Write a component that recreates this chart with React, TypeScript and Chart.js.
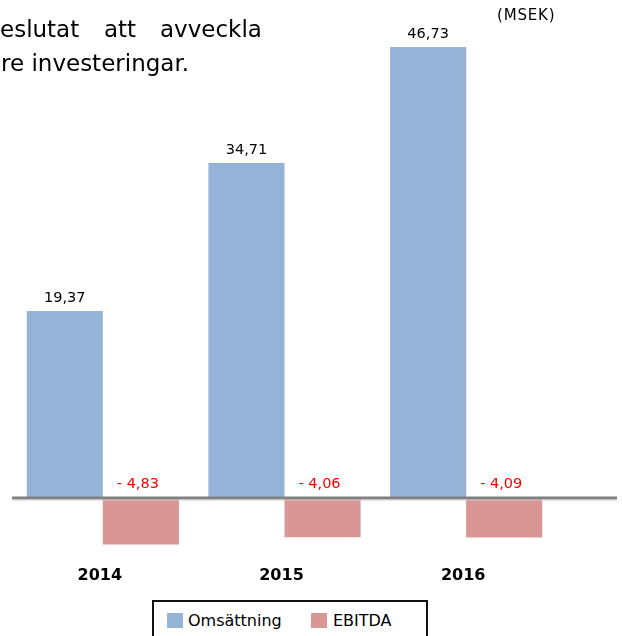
import React, { useEffect, useRef } from "react";
import { Chart, registerables } from "chart.js";

Chart.register(...registerables);

const years = ["2014", "2015", "2016"];
const omsattning = [19.37, 34.71, 46.73];
const ebitda = [-4.83, -4.06, -4.09];
const seriesNames = ["Omsättning", "EBITDA"];
const unitLabel = "(MSEK)";
const textLine1 = ["eslutat", "att", "avveckla"];
const textLine2 = "re investeringar.";

const BLUE = "#95B3D7";
const RED = "#D99694";
const FONT = "'DejaVu Sans', Verdana, sans-serif";

const fmt = (v: number) =>
  (v < 0 ? "- " : "") + Math.abs(v).toFixed(2).replace(".", ",");

const zeroLinePlugin = {
  id: "zeroLine",
  afterDatasetsDraw(chart: any) {
    const { ctx, scales, chartArea, width } = chart;
    const y = scales.y.getPixelForValue(0);
    ctx.save();
    ctx.strokeStyle = "#808080";
    ctx.lineWidth = 3;
    ctx.beginPath();
    ctx.moveTo(chartArea.left, y);
    ctx.lineTo(width - 6, y);
    ctx.stroke();
    ctx.strokeStyle = "#c8c8c8";
    ctx.lineWidth = 1;
    ctx.beginPath();
    ctx.moveTo(chartArea.left, y + 2);
    ctx.lineTo(width - 6, y + 2);
    ctx.stroke();
    ctx.restore();
  },
};

const valueLabelPlugin = {
  id: "valueLabels",
  afterDraw(chart: any) {
    const { ctx, scales } = chart;
    const zero = scales.y.getPixelForValue(0);
    ctx.save();
    ctx.font = `14.5px ${FONT}`;
    ctx.textAlign = "center";
    ctx.textBaseline = "middle";
    chart.data.datasets.forEach((ds: any, di: number) => {
      const meta = chart.getDatasetMeta(di);
      meta.data.forEach((el: any, i: number) => {
        const v = ds.data[i] as number;
        if (v >= 0) {
          ctx.fillStyle = "#000000";
          ctx.fillText(fmt(v), el.x, el.y - 13);
        } else {
          ctx.fillStyle = "#FF0000";
          ctx.fillText(fmt(v), el.x - 3, zero - 14);
        }
      });
    });
    ctx.restore();
  },
};

export default function App() {
  const canvasRef = useRef<HTMLCanvasElement | null>(null);

  useEffect(() => {
    if (!canvasRef.current) return;
    Chart.defaults.font.family = FONT;
    const chart = new Chart(canvasRef.current, {
      type: "bar",
      data: {
        labels: years,
        datasets: [
          {
            label: seriesNames[0],
            data: omsattning,
            backgroundColor: BLUE,
            barPercentage: 1,
            categoryPercentage: 0.8375,
          },
          {
            label: seriesNames[1],
            data: ebitda,
            backgroundColor: RED,
            barPercentage: 1,
            categoryPercentage: 0.8375,
          },
        ],
      },
      options: {
        responsive: false,
        animation: false,
        layout: { padding: { left: 12, right: 66, top: 15.5, bottom: 4.9 } },
        plugins: {
          legend: { display: false },
          tooltip: { enabled: false },
        },
        scales: {
          x: {
            grid: { display: false, drawTicks: false },
            border: { display: false },
            ticks: {
              padding: 10,
              labelOffset: -3,
              color: "#000000",
              font: { family: FONT, size: 16, weight: "bold" },
            },
          },
          y: {
            display: false,
            min: -6,
            max: 50,
          },
        },
      },
      plugins: [zeroLinePlugin, valueLabelPlugin],
    });
    return () => chart.destroy();
  }, []);

  const textStyle: React.CSSProperties = {
    position: "absolute",
    fontFamily: FONT,
    fontSize: 23,
    lineHeight: "23px",
    color: "#000",
    whiteSpace: "nowrap",
  };

  return (
    <div
      style={{
        position: "fixed",
        left: 0,
        top: 0,
        width: 623,
        height: 636,
        overflow: "hidden",
        background: "#fff",
      }}
    >
      <canvas
        ref={canvasRef}
        width={623}
        height={600}
        style={{ position: "absolute", left: 0, top: 0, width: 623, height: 600 }}
      />
      <span style={{ ...textStyle, left: 0, top: 18 }}>{textLine1[0]}</span>
      <span style={{ ...textStyle, left: 104, top: 18 }}>{textLine1[1]}</span>
      <span style={{ ...textStyle, left: 160, top: 18 }}>{textLine1[2]}</span>
      <span style={{ ...textStyle, left: 1, top: 52 }}>{textLine2}</span>
      <span
        style={{
          position: "absolute",
          left: 497,
          top: 6,
          fontFamily: FONT,
          fontSize: 15,
          letterSpacing: 0.8,
          lineHeight: "18px",
          color: "#000",
        }}
      >
        {unitLabel}
      </span>
      <div
        style={{
          position: "absolute",
          left: 152,
          top: 600,
          width: 272,
          height: 60,
          border: "2px solid #111",
          fontFamily: FONT,
          fontSize: 16,
          color: "#000",
        }}
      >
        <div style={{ position: "absolute", left: 13, top: 11, width: 16, height: 15, background: BLUE }} />
        <span style={{ position: "absolute", left: 34, top: 9, lineHeight: "20px" }}>{seriesNames[0]}</span>
        <div style={{ position: "absolute", left: 157, top: 11, width: 16, height: 15, background: RED }} />
        <span style={{ position: "absolute", left: 179, top: 9, lineHeight: "20px" }}>{seriesNames[1]}</span>
      </div>
    </div>
  );
}
